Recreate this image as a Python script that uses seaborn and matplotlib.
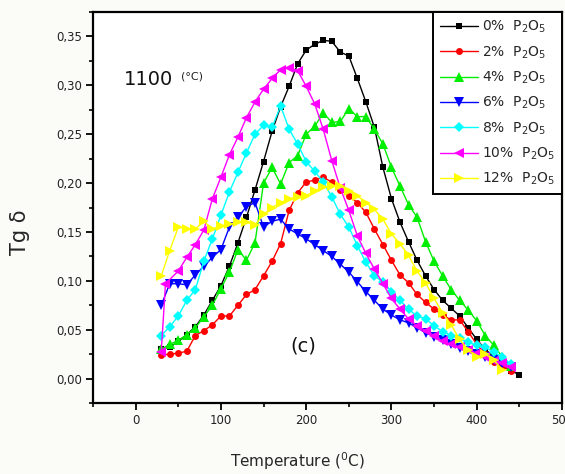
import numpy as np
import pandas as pd
import matplotlib
matplotlib.use("Agg")
import matplotlib.pyplot as plt
from matplotlib.ticker import MultipleLocator, FuncFormatter
import seaborn as sns

sns.set_theme(style="ticks")
plt.rcParams['font.family'] = ['DejaVu Sans']

# ---------------- data ----------------
x_std = [30, 40, 50, 60, 70, 80, 90, 100, 110, 120, 130, 140, 150, 160, 170,
         180, 190, 200, 210, 220, 230, 240, 250, 260, 270, 280, 290, 300, 310,
         320, 330, 340, 350, 360, 370, 380, 390, 400, 410, 420, 430, 440]

x_p0 = x_std + [450]
y_p0 = [0.030, 0.032, 0.038, 0.045, 0.053, 0.065, 0.080, 0.095, 0.115, 0.139,
        0.165, 0.193, 0.222, 0.253, 0.278, 0.299, 0.322, 0.336, 0.342, 0.346,
        0.345, 0.334, 0.330, 0.307, 0.283, 0.257, 0.216, 0.184, 0.160, 0.140,
        0.121, 0.105, 0.091, 0.080, 0.072, 0.064, 0.052, 0.040, 0.030, 0.022,
        0.014, 0.008, 0.004]

x_p2 = x_std
y_p2 = [0.024, 0.025, 0.026, 0.028, 0.044, 0.049, 0.055, 0.064, 0.064, 0.075,
        0.086, 0.091, 0.105, 0.120, 0.138, 0.172, 0.190, 0.201, 0.203, 0.206,
        0.201, 0.193, 0.187, 0.180, 0.170, 0.153, 0.137, 0.121, 0.106, 0.098,
        0.086, 0.078, 0.071, 0.065, 0.060, 0.060, 0.048, 0.035, 0.025, 0.017,
        0.012, 0.008]

x_p4 = x_std
y_p4 = [0.030, 0.035, 0.039, 0.045, 0.052, 0.063, 0.075, 0.092, 0.109, 0.132,
        0.121, 0.139, 0.200, 0.216, 0.199, 0.221, 0.228, 0.250, 0.258, 0.272,
        0.262, 0.263, 0.276, 0.268, 0.268, 0.255, 0.240, 0.216, 0.197, 0.178,
        0.165, 0.140, 0.120, 0.105, 0.091, 0.080, 0.070, 0.059, 0.044, 0.034,
        0.022, 0.013]

x_p6 = x_std
y_p6 = [0.075, 0.097, 0.097, 0.096, 0.106, 0.115, 0.124, 0.132, 0.155, 0.165,
        0.176, 0.180, 0.155, 0.161, 0.163, 0.153, 0.148, 0.143, 0.137, 0.131,
        0.125, 0.117, 0.109, 0.099, 0.089, 0.080, 0.071, 0.065, 0.060, 0.057,
        0.052, 0.047, 0.043, 0.039, 0.035, 0.031, 0.028, 0.025, 0.022, 0.019,
        0.015, 0.012]

x_p8 = x_std
y_p8 = [0.044, 0.053, 0.064, 0.080, 0.091, 0.120, 0.143, 0.167, 0.191, 0.211,
        0.231, 0.250, 0.259, 0.257, 0.279, 0.255, 0.240, 0.222, 0.212, 0.201,
        0.186, 0.168, 0.155, 0.136, 0.119, 0.105, 0.099, 0.089, 0.080, 0.071,
        0.064, 0.061, 0.054, 0.048, 0.044, 0.041, 0.037, 0.034, 0.032, 0.027,
        0.022, 0.015]

x_p10 = [30, 35] + x_std[2:]
y_p10 = [0.027, 0.097, 0.110, 0.124, 0.137, 0.152, 0.184, 0.206, 0.229, 0.247,
         0.267, 0.283, 0.296, 0.307, 0.316, 0.318, 0.315, 0.299, 0.281, 0.255,
         0.223, 0.195, 0.172, 0.146, 0.128, 0.112, 0.097, 0.082, 0.071, 0.061,
         0.054, 0.049, 0.044, 0.038, 0.035, 0.032, 0.029, 0.026, 0.022, 0.018,
         0.016, 0.012]

x_p12 = x_std[:-1]
y_p12 = [0.105, 0.131, 0.155, 0.153, 0.153, 0.161, 0.153, 0.156, 0.158, 0.160,
         0.160, 0.157, 0.168, 0.175, 0.180, 0.184, 0.186, 0.187, 0.192, 0.196,
         0.197, 0.197, 0.192, 0.187, 0.180, 0.173, 0.163, 0.148, 0.138, 0.126,
         0.110, 0.098, 0.082, 0.067, 0.055, 0.040, 0.029, 0.022, 0.025, 0.019,
         0.009]

labels = ["0%  P$_2$O$_5$", "2%  P$_2$O$_5$", "4%  P$_2$O$_5$", "6%  P$_2$O$_5$",
          "8%  P$_2$O$_5$", "10%  P$_2$O$_5$", "12%  P$_2$O$_5$"]
xs = [x_p0, x_p2, x_p4, x_p6, x_p8, x_p10, x_p12]
ys = [y_p0, y_p2, y_p4, y_p6, y_p8, y_p10, y_p12]
colors = ["#000000", "#ff0000", "#00ee00", "#0000ff", "#00ffff", "#ff00ff", "#ffff00"]
markers = ["s", "o", "^", "v", "D", "<", ">"]
msizes = [5, 5, 7, 7, 5.5, 7, 7]

# ---------------- figure ----------------
fig = plt.figure(figsize=(5.65, 4.74), dpi=100, facecolor="#fbfbf8")
ax = fig.add_axes([93/565, 1-403/474, (562-93)/565, (403-12)/474])
ax.set_facecolor("white")

for lab, xv, yv, c, m, ms in zip(labels, xs, ys, colors, markers, msizes):
    df = pd.DataFrame({"T": xv, "tg": yv})
    sns.lineplot(data=df, x="T", y="tg", ax=ax, color=c, marker=m,
                 markersize=ms, markeredgewidth=0, linewidth=1.0,
                 label=lab, estimator=None, sort=False)

ax.set_xlim(-50, 500)
ax.set_ylim(-0.025, 0.375)
ax.xaxis.set_major_locator(MultipleLocator(100))
ax.xaxis.set_minor_locator(MultipleLocator(50))
ax.yaxis.set_major_locator(MultipleLocator(0.05))
ax.yaxis.set_minor_locator(MultipleLocator(0.025))
ax.yaxis.set_major_formatter(FuncFormatter(lambda v, p: f"{v:.2f}".replace(".", ",").replace("-0,00", "0,00")))
ax.tick_params(which="major", direction="out", length=5, width=1.3,
               labelsize=8.5, colors="black", labelcolor="#222222", pad=3)
ax.tick_params(which="minor", direction="out", length=3, width=1.2, colors="black")
for s in ax.spines.values():
    s.set_linewidth(1.6)
    s.set_color("black")
    s.set_visible(True)

ax.set_xlabel("Temperature ($^0$C)", fontsize=11)
ax.xaxis.set_label_coords(0.437, -0.122)
ax.set_ylabel("Tg δ", fontsize=15)
ax.yaxis.set_label_coords(-0.135, 0.437)

ax.text(-14, 0.306, "1100", fontsize=14, va="center", ha="left", color="#111111")
ax.text(53, 0.309, "(°C)", fontsize=8, va="center", ha="left", color="#222222")
ax.text(197, 0.033, "(c)", fontsize=14, va="center", ha="center", color="#111111",
        bbox=dict(facecolor="white", edgecolor="none", pad=18))

leg = ax.legend(loc="upper right", frameon=True, fancybox=False, edgecolor="black",
                borderaxespad=0, fontsize=10, handlelength=2.7, labelspacing=0.64,
                borderpad=0.5, handletextpad=0.3)
leg.get_frame().set_linewidth(1.4)
leg.get_frame().set_facecolor("white")
leg.get_frame().set_alpha(1)

fig.savefig("out.png", dpi=100, facecolor=fig.get_facecolor())
